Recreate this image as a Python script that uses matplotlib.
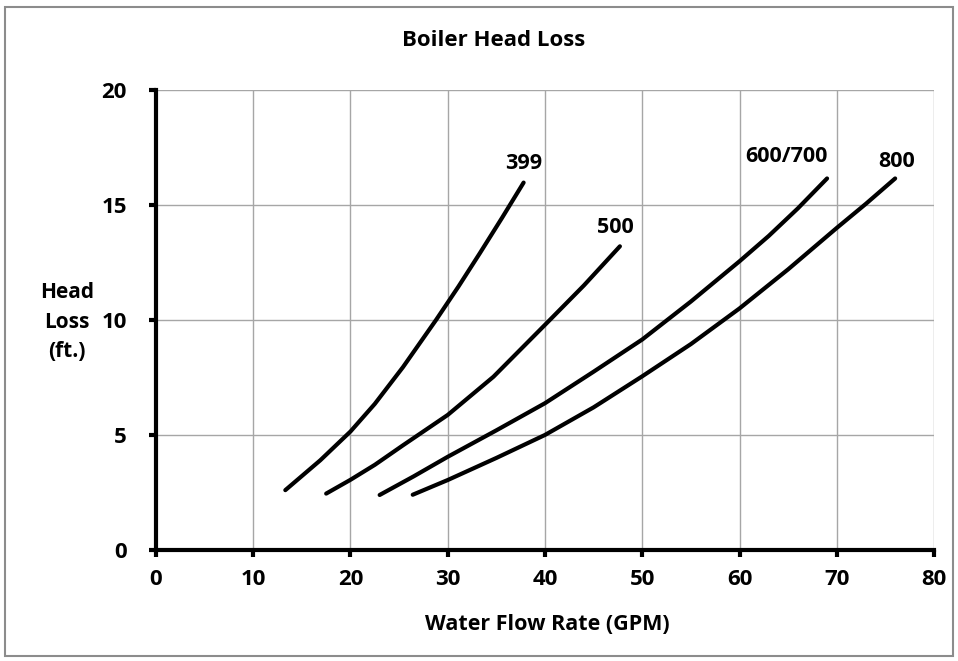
import matplotlib.pyplot as plt
from matplotlib.patches import Rectangle

plt.rcParams['font.family'] = ['Open Sans', 'DejaVu Sans']
plt.rcParams['font.weight'] = 'bold'

# Boiler head loss curves (GPM vs ft. of head)
x_399 = [13.3, 16.9, 20.0, 22.5, 25.4, 28.8, 31.1, 33.3, 35.6, 37.8]
y_399 = [2.6, 3.9, 5.15, 6.35, 7.95, 10.0, 11.45, 12.9, 14.45, 15.97]

x_500 = [17.5, 20.0, 22.5, 25.4, 30.0, 34.7, 40.5, 44.0, 47.7]
y_500 = [2.45, 3.05, 3.7, 4.55, 5.87, 7.53, 10.0, 11.5, 13.2]

x_600 = [23.0, 26.5, 30.0, 35.0, 40.0, 45.0, 50.0, 55.0, 60.0, 63.0, 66.0, 69.0]
y_600 = [2.39, 3.2, 4.05, 5.2, 6.38, 7.75, 9.15, 10.8, 12.55, 13.65, 14.85, 16.15]

x_800 = [26.4, 30.0, 35.0, 40.0, 45.0, 50.0, 55.0, 60.0, 65.0, 70.0, 73.0, 76.0]
y_800 = [2.4, 3.04, 4.0, 5.0, 6.2, 7.55, 8.95, 10.5, 12.2, 14.0, 15.05, 16.15]

curves = [(x_399, y_399), (x_500, y_500), (x_600, y_600), (x_800, y_800)]
labels = ['399', '500', '600/700', '800']
label_pos = [(37.8, 16.8), (47.2, 14.0), (64.8, 17.1), (76.2, 16.9)]

fig = plt.figure(figsize=(9.58, 6.61), dpi=100)
ax = fig.add_axes([0.1628, 0.168, 0.8122, 0.696])

for (xs, ys) in curves:
    ax.plot(xs, ys, color='black', lw=3, solid_capstyle='round',
            solid_joinstyle='round', zorder=3)

for lab, (lx, ly) in zip(labels, label_pos):
    ax.text(lx, ly, lab, ha='center', va='center', fontsize=15.5, fontweight='bold')

ax.set_xlim(0, 80)
ax.set_ylim(0, 20)
ax.set_xticks(range(0, 81, 10))
ax.set_yticks(range(0, 21, 5))
ax.grid(True, color='#a6a6a6', lw=1)
ax.set_axisbelow(True)

for s in ['top', 'right']:
    ax.spines[s].set_visible(False)
for s in ['left', 'bottom']:
    ax.spines[s].set_linewidth(3)
    ax.spines[s].set_color('black')

ax.tick_params(axis='both', length=5, width=3, direction='out', labelsize=16)
ax.tick_params(axis='x', pad=9)
ax.tick_params(axis='y', pad=16)
for t in ax.get_xticklabels() + ax.get_yticklabels():
    t.set_fontweight('bold')

fig.text(547 / 958, 1 - 625 / 661, 'Water Flow Rate (GPM)', ha='center', va='center',
         fontsize=15.5, fontweight='bold')
fig.text(67 / 958, 1 - 322 / 661, 'Head\nLoss\n(ft.)', ha='center', va='center',
         fontsize=15, fontweight='bold', linespacing=1.55)
fig.text(494 / 958, 1 - 40 / 661, 'Boiler Head Loss', ha='center', va='center',
         fontsize=16, fontweight='bold')

fig.patches.append(Rectangle((5 / 958, 5 / 661), 948 / 958, 649 / 661,
                             transform=fig.transFigure, fill=False,
                             edgecolor='#8c8c8c', lw=1.5))

fig.savefig('out.png', dpi=100)
